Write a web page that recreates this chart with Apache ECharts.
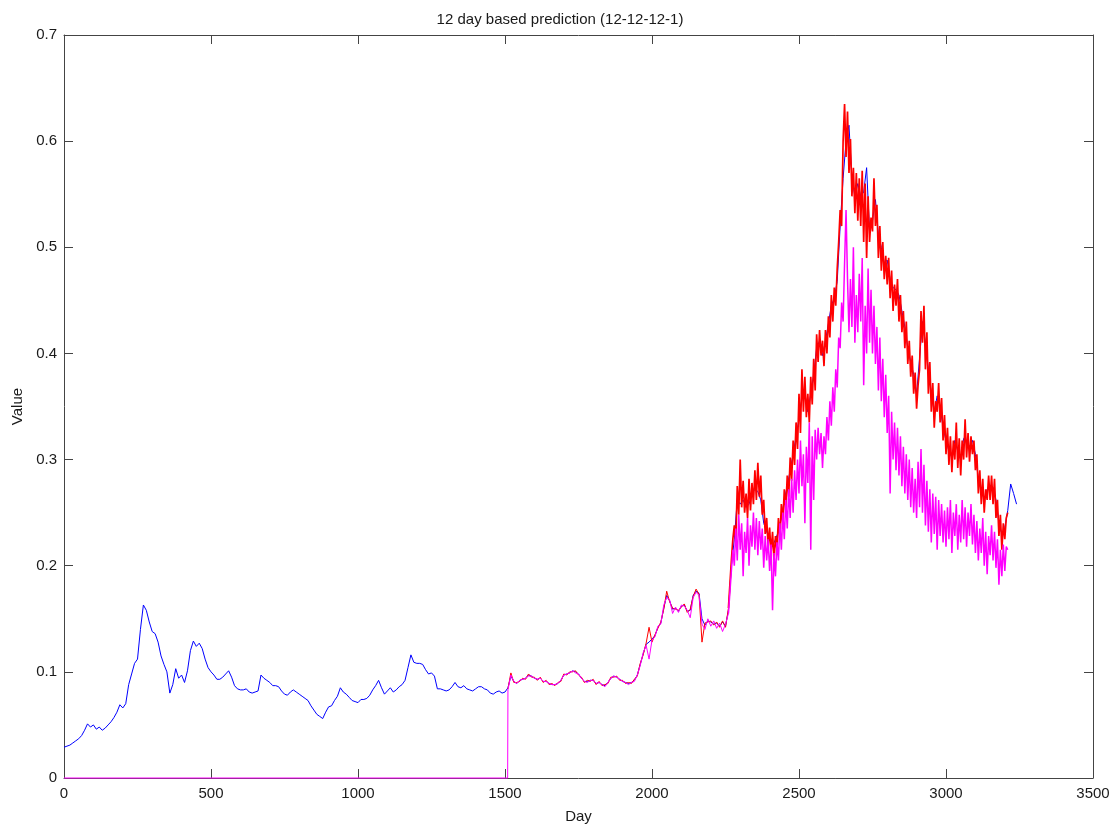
<!DOCTYPE html>
<html>
<head>
<meta charset="utf-8">
<title>12 day based prediction</title>
<script src="https://cdn.jsdelivr.net/npm/echarts@6/dist/echarts.min.js"></script>
<style>
  html, body { margin: 0; padding: 0; background: #fff; }
  #chart { width: 1120px; height: 829px; }
</style>
</head>
<body>
<div id="chart"></div>
<script>
// Actual value, one reading every 10 days from day 0
const actualStart = 0;
const actualStep = 10;
const actualValues = [
  0.029, 0.030, 0.031, 0.033, 0.035, 0.037, 0.040, 0.045, 0.051, 0.048,
  0.050, 0.046, 0.048, 0.045, 0.047, 0.050, 0.053, 0.057, 0.062, 0.069,
  0.066, 0.070, 0.088, 0.098, 0.108, 0.112, 0.140, 0.163, 0.158, 0.147,
  0.138, 0.136, 0.128, 0.115, 0.107, 0.100, 0.080, 0.088, 0.103, 0.094,
  0.097, 0.090, 0.101, 0.120, 0.129, 0.124, 0.127, 0.122, 0.112, 0.104,
  0.100, 0.097, 0.093, 0.093, 0.095, 0.098, 0.101, 0.095, 0.087, 0.084,
  0.083, 0.083, 0.084, 0.081, 0.080, 0.081, 0.082, 0.097, 0.094, 0.092,
  0.090, 0.087, 0.087, 0.086, 0.082, 0.079, 0.078, 0.081, 0.083, 0.081,
  0.079, 0.077, 0.075, 0.073, 0.068, 0.064, 0.060, 0.058, 0.056, 0.062,
  0.067, 0.068, 0.073, 0.077, 0.085, 0.081, 0.079, 0.076, 0.073, 0.072,
  0.071, 0.074, 0.074, 0.075, 0.078, 0.083, 0.087, 0.092, 0.085, 0.079,
  0.082, 0.085, 0.081, 0.083, 0.086, 0.088, 0.092, 0.104, 0.116, 0.109,
  0.108, 0.108, 0.107, 0.102, 0.098, 0.099, 0.096, 0.084, 0.084, 0.083,
  0.082, 0.083, 0.086, 0.090, 0.086, 0.085, 0.087, 0.084, 0.083, 0.082,
  0.084, 0.086, 0.086, 0.084, 0.083, 0.080, 0.079, 0.081, 0.082, 0.080,
  0.081, 0.085, 0.096, 0.091, 0.089, 0.092, 0.093, 0.094, 0.097, 0.096,
  0.094, 0.093, 0.094, 0.091, 0.091, 0.089, 0.088, 0.088, 0.089, 0.092,
  0.097, 0.098, 0.099, 0.101, 0.100, 0.098, 0.094, 0.091, 0.091, 0.092,
  0.092, 0.089, 0.090, 0.088, 0.087, 0.090, 0.094, 0.096, 0.095, 0.093,
  0.091, 0.090, 0.089, 0.090, 0.092, 0.097, 0.107, 0.117, 0.126, 0.128,
  0.131, 0.134, 0.142, 0.146, 0.160, 0.172, 0.167, 0.159, 0.160, 0.157,
  0.162, 0.163, 0.157, 0.158, 0.172, 0.176, 0.174, 0.150, 0.144, 0.148,
  0.147, 0.145, 0.146, 0.143, 0.147, 0.143, 0.158, 0.200, 0.225, 0.262,
  0.258, 0.262, 0.255, 0.258, 0.268, 0.272, 0.270, 0.262, 0.240, 0.232,
  0.225, 0.218, 0.225, 0.232, 0.245, 0.262, 0.275, 0.290, 0.305, 0.322,
  0.338, 0.358, 0.362, 0.345, 0.362, 0.380, 0.405, 0.412, 0.398, 0.412,
  0.428, 0.445, 0.452, 0.468, 0.520, 0.565, 0.600, 0.615, 0.565, 0.548,
  0.560, 0.548, 0.552, 0.575, 0.515, 0.525, 0.545, 0.512, 0.500, 0.485,
  0.488, 0.470, 0.462, 0.460, 0.455, 0.440, 0.425, 0.405, 0.392, 0.380,
  0.362, 0.395, 0.430, 0.410, 0.385, 0.362, 0.345, 0.360, 0.350, 0.330,
  0.318, 0.308, 0.302, 0.318, 0.308, 0.300, 0.320, 0.318, 0.312, 0.318,
  0.305, 0.282, 0.272, 0.262, 0.272, 0.276, 0.274, 0.262, 0.240, 0.230,
  0.236, 0.252, 0.277, 0.268, 0.258
];

// Prediction 1 (red): calm stretch, every 10 days from day 1510
const redCalmStart = 1510;
const redCalmStep = 10;
const redCalmValues = [
  0.084, 0.099, 0.090, 0.090, 0.091, 0.094, 0.093, 0.098, 0.095, 0.095,
  0.092, 0.095, 0.090, 0.092, 0.088, 0.089, 0.087, 0.090, 0.091, 0.098,
  0.097, 0.100, 0.100, 0.101, 0.097, 0.095, 0.090, 0.092, 0.091, 0.093,
  0.088, 0.091, 0.087, 0.088, 0.089, 0.095, 0.095, 0.096, 0.092, 0.092,
  0.089, 0.090, 0.089, 0.093, 0.096, 0.108, 0.116, 0.127, 0.142, 0.128,
  0.135, 0.141, 0.147, 0.159, 0.176, 0.166, 0.160, 0.159, 0.158, 0.161,
  0.164, 0.156, 0.159, 0.171, 0.178, 0.173, 0.128, 0.146, 0.147, 0.148,
  0.144, 0.147, 0.142, 0.148, 0.142, 0.160
];

// Prediction 1 (red): volatile stretch, every 5 days from day 2270
const redVolatileStart = 2270;
const redVolatileStep = 5;
const redVolatileValues = [
  0.205, 0.225, 0.238, 0.222, 0.275, 0.248, 0.300, 0.255, 0.280, 0.250,
  0.268, 0.245, 0.282, 0.252, 0.278, 0.258, 0.290, 0.262, 0.297, 0.265,
  0.285, 0.248, 0.262, 0.230, 0.245, 0.218, 0.236, 0.212, 0.232, 0.205,
  0.228, 0.215, 0.245, 0.225, 0.258, 0.240, 0.272, 0.252, 0.285, 0.265,
  0.302, 0.280, 0.318, 0.295, 0.335, 0.310, 0.362, 0.325, 0.385, 0.345,
  0.378, 0.340, 0.362, 0.335, 0.378, 0.352, 0.395, 0.365, 0.418, 0.392,
  0.422, 0.398, 0.412, 0.388, 0.422, 0.400, 0.435, 0.415, 0.455, 0.430,
  0.462, 0.445, 0.480, 0.505, 0.535, 0.520, 0.600, 0.635, 0.585, 0.628,
  0.570, 0.602, 0.548, 0.575, 0.532, 0.570, 0.525, 0.565, 0.520, 0.572,
  0.505, 0.560, 0.490, 0.548, 0.505, 0.528, 0.515, 0.565, 0.520, 0.540,
  0.490, 0.520, 0.478, 0.505, 0.470, 0.492, 0.465, 0.490, 0.452, 0.478,
  0.440, 0.465, 0.445, 0.470, 0.430, 0.455, 0.420, 0.440, 0.405, 0.430,
  0.390, 0.412, 0.378, 0.398, 0.362, 0.382, 0.348, 0.370, 0.385, 0.440,
  0.410, 0.445, 0.385, 0.420, 0.362, 0.392, 0.345, 0.372, 0.330, 0.355,
  0.345, 0.372, 0.335, 0.358, 0.318, 0.342, 0.305, 0.330, 0.295, 0.322,
  0.288, 0.318, 0.300, 0.335, 0.292, 0.320, 0.285, 0.318, 0.300, 0.338,
  0.302, 0.325, 0.298, 0.322, 0.305, 0.318, 0.290, 0.305, 0.268, 0.290,
  0.258, 0.282, 0.250, 0.272, 0.262, 0.285, 0.262, 0.285, 0.258, 0.282,
  0.245, 0.262, 0.228, 0.248, 0.215, 0.240, 0.225, 0.245, 0.250
];

// Prediction 2 (magenta): zero before the first forecast day
const magentaLeadDays = [0, 1509];
const magentaLeadValues = [0, 0];

// Prediction 2 (magenta): calm stretch, every 10 days from day 1510
const magentaCalmStart = 1510;
const magentaCalmStep = 10;
const magentaCalmValues = [
  0.083, 0.097, 0.091, 0.089, 0.092, 0.093, 0.094, 0.096, 0.096, 0.094,
  0.093, 0.094, 0.091, 0.091, 0.089, 0.088, 0.088, 0.089, 0.092, 0.097,
  0.098, 0.099, 0.101, 0.099, 0.098, 0.094, 0.091, 0.090, 0.092, 0.092,
  0.089, 0.090, 0.088, 0.086, 0.090, 0.094, 0.096, 0.095, 0.093, 0.091,
  0.090, 0.088, 0.090, 0.091, 0.097, 0.106, 0.118, 0.125, 0.112, 0.130,
  0.133, 0.143, 0.145, 0.163, 0.170, 0.168, 0.155, 0.161, 0.156, 0.163,
  0.162, 0.158, 0.151, 0.170, 0.175, 0.172, 0.145, 0.140, 0.150, 0.143,
  0.148, 0.141, 0.146, 0.138, 0.145, 0.155
];

// Prediction 2 (magenta): volatile stretch, every 5 days from day 2270
const magentaVolatileStart = 2270;
const magentaVolatileStep = 5;
const magentaVolatileValues = [
  0.195, 0.215, 0.200, 0.235, 0.205, 0.248, 0.215, 0.240, 0.190, 0.232,
  0.212, 0.245, 0.200, 0.238, 0.218, 0.250, 0.215, 0.245, 0.210, 0.242,
  0.215, 0.235, 0.198, 0.228, 0.205, 0.225, 0.195, 0.220, 0.158, 0.212,
  0.190, 0.222, 0.205, 0.240, 0.215, 0.250, 0.225, 0.262, 0.235, 0.272,
  0.245, 0.282, 0.250, 0.290, 0.262, 0.300, 0.268, 0.318, 0.275, 0.305,
  0.240, 0.312, 0.278, 0.335, 0.215, 0.322, 0.262, 0.328, 0.300, 0.330,
  0.305, 0.325, 0.292, 0.322, 0.305, 0.340, 0.318, 0.355, 0.332, 0.368,
  0.345, 0.385, 0.368, 0.415, 0.405, 0.448, 0.430, 0.485, 0.535, 0.470,
  0.420, 0.470, 0.425, 0.500, 0.410, 0.455, 0.420, 0.475, 0.430, 0.490,
  0.370, 0.445, 0.400, 0.480, 0.410, 0.460, 0.400, 0.445, 0.390, 0.425,
  0.365, 0.415, 0.355, 0.395, 0.340, 0.380, 0.325, 0.360, 0.268, 0.345,
  0.300, 0.335, 0.290, 0.330, 0.285, 0.322, 0.275, 0.312, 0.268, 0.305,
  0.262, 0.300, 0.255, 0.292, 0.250, 0.282, 0.245, 0.298, 0.255, 0.310,
  0.250, 0.295, 0.238, 0.280, 0.232, 0.272, 0.222, 0.268, 0.230, 0.265,
  0.215, 0.262, 0.228, 0.258, 0.222, 0.252, 0.218, 0.255, 0.225, 0.262,
  0.212, 0.250, 0.228, 0.258, 0.215, 0.248, 0.222, 0.262, 0.225, 0.255,
  0.218, 0.250, 0.228, 0.258, 0.220, 0.248, 0.212, 0.242, 0.205, 0.235,
  0.212, 0.245, 0.200, 0.232, 0.192, 0.228, 0.210, 0.238, 0.205, 0.232,
  0.198, 0.225, 0.182, 0.215, 0.190, 0.220, 0.195, 0.218, 0.215
];

// Axis ranges and tick spacing
const dayMin = 0, dayMax = 3500, dayTick = 500;
const valueMin = 0, valueMax = 0.7, valueTick = 0.1;

function toPoints(start, step, values) {
  return values.map((v, i) => [start + i * step, v]);
}

const actualData = toPoints(actualStart, actualStep, actualValues);
// calm part keeps the last point so the volatile part joins onto it
const redCalmData = toPoints(redCalmStart, redCalmStep, redCalmValues);
const redVolatileData = [redCalmData[redCalmData.length - 1]]
  .concat(toPoints(redVolatileStart, redVolatileStep, redVolatileValues));
const magentaCalmData = magentaLeadDays.map((d, i) => [d, magentaLeadValues[i]])
  .concat(toPoints(magentaCalmStart, magentaCalmStep, magentaCalmValues));
const magentaVolatileData = [magentaCalmData[magentaCalmData.length - 1]]
  .concat(toPoints(magentaVolatileStart, magentaVolatileStep, magentaVolatileValues));

const FONT = "'Liberation Sans', Arial, Helvetica, sans-serif";
const TEXT = '#1a1a1a';
const AXIS = '#444444';
const BLUE = '#0000ff', RED = '#ff0000', MAGENTA = '#ff00ff';

const axisLine = { show: true, onZero: false, lineStyle: { color: AXIS, width: 1 } };
const axisTick = { show: true, inside: true, length: 9, lineStyle: { color: AXIS, width: 1 } };
const tickLabel = { color: TEXT, fontFamily: FONT, fontSize: 15 };

function lineSeries(name, data, color, width, z) {
  return {
    name: name, type: 'line', data: data, showSymbol: false, symbol: 'none',
    clip: false, lineStyle: { color: color, width: width }, z: z
  };
}

const chart = echarts.init(document.getElementById('chart'), null, { renderer: 'canvas' });
chart.setOption({
  animation: false,
  backgroundColor: '#ffffff',
  title: {
    text: '12 day based prediction (12-12-12-1)',
    left: 'center',
    top: 7,
    textStyle: { color: TEXT, fontFamily: FONT, fontSize: 15, fontWeight: 'normal' }
  },
  grid: { left: 64, right: 27, top: 35, bottom: 51, containLabel: false },
  xAxis: [
    {
      type: 'value', min: dayMin, max: dayMax, interval: dayTick, position: 'bottom',
      name: 'Day', nameLocation: 'middle', nameGap: 31,
      nameTextStyle: { color: TEXT, fontFamily: FONT, fontSize: 15 },
      axisLine: axisLine, axisTick: axisTick,
      axisLabel: Object.assign({ margin: 8, formatter: v => String(v) }, tickLabel),
      splitLine: { show: false }
    },
    {
      type: 'value', min: dayMin, max: dayMax, interval: dayTick, position: 'top',
      axisLine: axisLine, axisTick: axisTick,
      axisLabel: { show: false }, splitLine: { show: false }
    }
  ],
  yAxis: [
    {
      type: 'value', min: valueMin, max: valueMax, interval: valueTick, position: 'left',
      name: 'Value', nameLocation: 'middle', nameGap: 38, nameRotate: 90,
      nameTextStyle: { color: TEXT, fontFamily: FONT, fontSize: 15 },
      axisLine: axisLine, axisTick: axisTick,
      axisLabel: Object.assign({ margin: 7, formatter: v => String(+v.toFixed(1)) }, tickLabel),
      splitLine: { show: false }
    },
    {
      type: 'value', min: valueMin, max: valueMax, interval: valueTick, position: 'right',
      axisLine: axisLine, axisTick: axisTick,
      axisLabel: { show: false }, splitLine: { show: false }
    }
  ],
  series: [
    lineSeries('Actual', actualData, BLUE, 1, 3),
    lineSeries('Prediction A', redCalmData, RED, 1, 4),
    lineSeries('Prediction A', redVolatileData, RED, 1.7, 4),
    lineSeries('Prediction B', magentaCalmData, MAGENTA, 1, 5),
    lineSeries('Prediction B', magentaVolatileData, MAGENTA, 1.5, 5)
  ]
});
</script>
</body>
</html>
